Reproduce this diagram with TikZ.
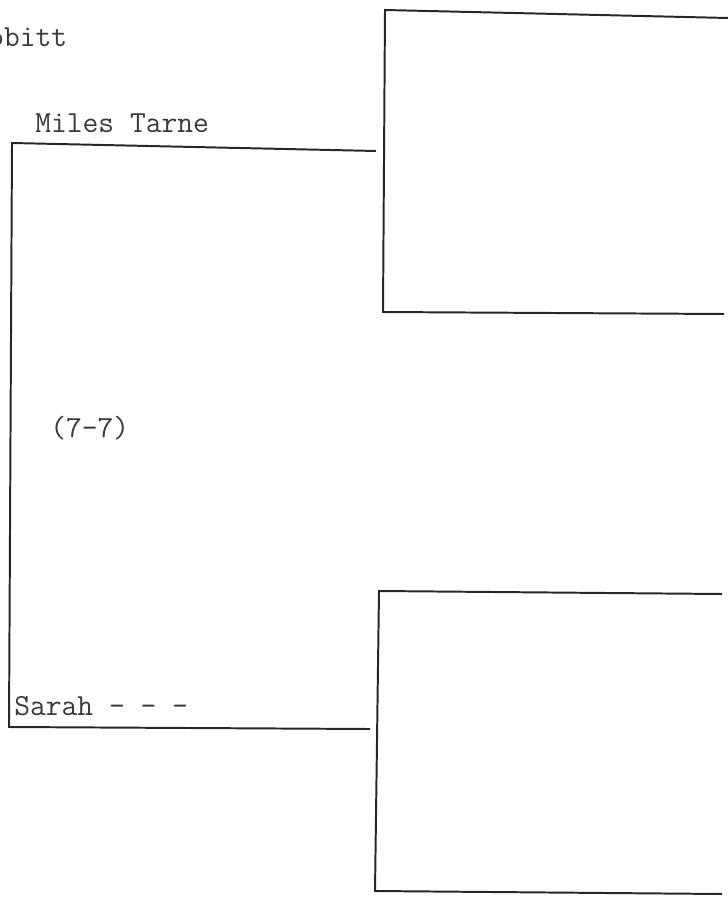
\documentclass[tikz,border=0pt]{standalone}
\usepackage{fontspec}
\definecolor{BrkInk}{HTML}{262626}
\definecolor{BrkText}{HTML}{3A3A3A}
\begin{document}
\begin{tikzpicture}[
    x=0.025cm,y=-0.025cm,
    player/.style={anchor=base west,inner sep=0pt,
      font=\ttfamily\fontsize{21.8}{24}\selectfont,text=BrkText},
    bracket/.style={line width=1.4pt,draw=BrkInk,line join=miter}
  ]
    \useasboundingbox (0,0) rectangle (728,899);
    \node[player] (prev) at (-12,47) {obitt};
    \node[player] (miles) at (35,133) {Miles Tarne};
    \node[player] (score) at (50,437) {(7-7)};
    \node[player] (sarah) at (14,715) {Sarah - - -};
    \coordinate (mend) at (376,151);
    \coordinate (mtop) at (12,143);
    \coordinate (sbot) at (9,727);
    \coordinate (send) at (370,729);
    \coordinate (atr) at (728,18);
    \coordinate (atl) at (385,10);
    \coordinate (abl) at (383,312);
    \coordinate (abr) at (724,314);
    \coordinate (btr) at (722,594);
    \coordinate (btl) at (379,591);
    \coordinate (bbl) at (375,891);
    \coordinate (bbr) at (722,894);
    \draw[bracket] (mend) -- (mtop) -- (sbot) -- (send);
    \draw[bracket] (atr) -- (atl) -- (abl) -- (abr);
    \draw[bracket] (btr) -- (btl) -- (bbl) -- (bbr);
  \end{tikzpicture}
\end{document}
